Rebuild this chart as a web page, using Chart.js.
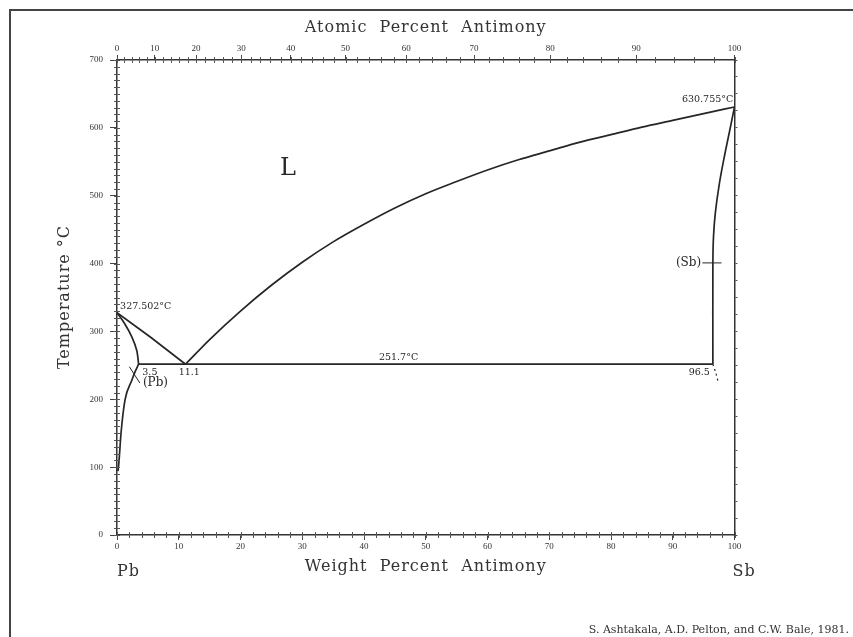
<!DOCTYPE html>
<html>
<head>
<meta charset="utf-8">
<script src="https://cdn.jsdelivr.net/npm/chart.js@4.4.0/dist/chart.umd.min.js"></script>
<style>
  html, body { margin: 0; padding: 0; background: #fff; }
  canvas { display: block; }
</style>
</head>
<body>
<canvas id="pbsb" width="853" height="637"></canvas>
<script>
// Pb-Sb phase diagram: weight % Sb (x) against temperature in °C (y)
const PB_MASS = 207.2;
const SB_MASS = 121.76;

const atomicTicks = [0, 10, 20, 30, 40, 50, 60, 70, 80, 90, 100];

// liquidus, Pb side
const liqPbWt = [0, 5.5, 11.1];
const liqPbTemp = [327.502, 291, 251.7];

// liquidus, Sb side
const liqSbWt = [11.1, 15, 20, 25, 30, 35, 40, 45, 50, 55, 60, 65, 70, 75, 80, 85, 90, 95, 100];
const liqSbTemp = [251.7, 288, 330, 368, 402, 432, 458, 482, 503, 521, 538, 553, 566, 579, 590, 601, 611, 621, 630.755];

// (Pb) solidus and solvus
const solPbWt = [0, 1.2, 2.4, 3.2, 3.5];
const solPbTemp = [327.502, 312, 292, 272, 251.7];
const solvPbWt = [3.5, 2.9, 2.4, 1.3, 0.65, 0.3, 0.15];
const solvPbTemp = [251.7, 240, 228, 199, 150, 106, 94];

// eutectic line
const eutWt = [3.5, 96.5];
const eutTemp = [251.7, 251.7];

// (Sb) solidus and solvus
const solSbWt = [100, 99.2, 98.3, 97.5, 96.9, 96.6, 96.5, 96.5];
const solSbTemp = [630.755, 595, 555, 515, 475, 440, 400, 251.7];
const solvSbWt = [96.5, 97.0, 97.4];
const solvSbTemp = [251.7, 238, 224];

// label leaders
const leadPbWt = [2.0, 3.7];
const leadPbTemp = [248, 224];
const leadSbWt = [94.8, 97.9];
const leadSbTemp = [401, 401];

const INK = '#262626';
const TICK_FONT = { family: "'Liberation Serif', serif", size: 9 };

function atToWt(a) {
    return a * SB_MASS / (a * SB_MASS + (100 - a) * PB_MASS) * 100;
}

function curve(wt, temp, extra) {
    return Object.assign({
        data: wt.map((w, i) => ({ x: w, y: temp[i] })),
        borderColor: INK,
        borderWidth: 1.7,
        pointRadius: 0,
        tension: 0.3,
        fill: false
    }, extra || {});
}

const notes = [
    { t: 'L', x: 27.7, y: 539, size: 24, align: 'center' },
    { t: '327.502°C', x: 0.5, y: 336, size: 9.5, align: 'left' },
    { t: '3.5', x: 4.1, y: 240, size: 9.5, align: 'left' },
    { t: '11.1', x: 10.0, y: 240, size: 9.5, align: 'left' },
    { t: '251.7°C', x: 45.6, y: 261, size: 9.5, align: 'center' },
    { t: '96.5', x: 96.0, y: 240, size: 9.5, align: 'right' },
    { t: '630.755°C', x: 99.8, y: 642, size: 9.5, align: 'right' },
    { t: '(Sb)', x: 94.6, y: 401, size: 12, align: 'right' },
    { t: '(Pb)', x: 4.2, y: 224, size: 12, align: 'left' }
];

const diagramText = {
    id: 'diagramText',
    beforeDraw(chart) {
        const ctx = chart.ctx;
        ctx.save();
        ctx.fillStyle = '#fff';
        ctx.fillRect(0, 0, chart.width, chart.height);
        ctx.strokeStyle = '#444';
        ctx.lineWidth = 2;
        ctx.beginPath();
        ctx.moveTo(10, chart.height);
        ctx.lineTo(10, 10);
        ctx.lineTo(chart.width, 10);
        ctx.stroke();
        ctx.restore();
    },
    afterDraw(chart) {
        const { ctx, chartArea: area, scales: { x, y } } = chart;
        ctx.save();

        // minor ticks
        ctx.strokeStyle = '#555';
        ctx.lineWidth = 1;
        ctx.beginPath();
        for (let t = 0; t <= 700; t += 10) {
            const py = Math.round(y.getPixelForValue(t)) + 0.5;
            ctx.moveTo(area.left - 3, py);
            ctx.lineTo(area.left + 3, py);
        }
        for (let w = 0; w <= 100; w += 2) {
            const px = Math.round(x.getPixelForValue(w)) + 0.5;
            ctx.moveTo(px, area.bottom - 3);
            ctx.lineTo(px, area.bottom + 3);
        }
        for (let a = 0; a <= 100; a += 2) {
            const px = Math.round(x.getPixelForValue(atToWt(a))) + 0.5;
            ctx.moveTo(px, area.top - 3);
            ctx.lineTo(px, area.top + 3);
        }
        ctx.stroke();

        // labels inside the diagram
        ctx.fillStyle = INK;
        ctx.textBaseline = 'middle';
        notes.forEach(n => {
            ctx.font = n.size + "px 'DejaVu Serif', serif";
            ctx.textAlign = n.align;
            ctx.fillText(n.t, x.getPixelForValue(n.x), y.getPixelForValue(n.y));
        });

        // axis titles
        const cx = (area.left + area.right) / 2;
        ctx.fillStyle = '#333';
        ctx.font = "16px 'DejaVu Serif', serif";
        ctx.letterSpacing = '1px';
        ctx.textAlign = 'center';
        ctx.fillText('Atomic  Percent  Antimony', cx, 28);
        ctx.fillText('Weight  Percent  Antimony', cx, 567);
        ctx.textAlign = 'left';
        ctx.fillText('Pb', area.left, 572);
        ctx.fillText('Sb', area.right - 2, 572);

        ctx.save();
        ctx.translate(65, 297);
        ctx.rotate(-Math.PI / 2);
        ctx.textAlign = 'center';
        ctx.fillText('Temperature °C', 0, 0);
        ctx.restore();

        ctx.letterSpacing = '0px';
        ctx.font = "11px 'DejaVu Serif', serif";
        ctx.textAlign = 'right';
        ctx.fillText('S. Ashtakala, A.D. Pelton, and C.W. Bale, 1981.', 849, 630);
        ctx.restore();
    }
};

new Chart(document.getElementById('pbsb'), {
    type: 'line',
    data: {
        datasets: [
            curve(liqPbWt, liqPbTemp, { tension: 0 }),
            curve(liqSbWt, liqSbTemp, { cubicInterpolationMode: 'monotone' }),
            curve(solPbWt, solPbTemp),
            curve(solvPbWt, solvPbTemp, { cubicInterpolationMode: 'monotone' }),
            curve(eutWt, eutTemp, { tension: 0 }),
            curve(solSbWt, solSbTemp, { tension: 0.4 }),
            curve(solvSbWt, solvSbTemp, { borderDash: [2, 3], borderWidth: 1.2 }),
            curve(leadPbWt, leadPbTemp, { tension: 0, borderWidth: 1 }),
            curve(leadSbWt, leadSbTemp, { tension: 0, borderWidth: 1 })
        ]
    },
    options: {
        responsive: false,
        animation: false,
        layout: { padding: 0 },
        plugins: {
            legend: { display: false },
            tooltip: { enabled: false }
        },
        scales: {
            x: {
                type: 'linear',
                position: 'bottom',
                min: 0,
                max: 100,
                ticks: { stepSize: 10, color: '#333', font: TICK_FONT, padding: 1, maxRotation: 0, autoSkip: false },
                grid: { drawOnChartArea: false, tickLength: 5, color: '#444' },
                border: { color: '#333', width: 1.5 },
                afterFit: s => { s.height = 102; }
            },
            xTop: {
                type: 'linear',
                position: 'top',
                min: 0,
                max: 100,
                afterBuildTicks: s => { s.ticks = atomicTicks.map(a => ({ value: atToWt(a) })); },
                ticks: { callback: (v, i) => atomicTicks[i], color: '#333', font: TICK_FONT, padding: 1, maxRotation: 0, autoSkip: false },
                grid: { drawOnChartArea: false, tickLength: 5, color: '#444' },
                border: { color: '#333', width: 1.5 },
                afterFit: s => { s.height = 60; }
            },
            y: {
                type: 'linear',
                position: 'left',
                min: 0,
                max: 700,
                ticks: { stepSize: 100, color: '#333', font: TICK_FONT, padding: 7 },
                grid: { drawOnChartArea: false, tickLength: 7, color: '#444' },
                border: { color: '#333', width: 1.5 },
                afterFit: s => { s.width = 117; }
            },
            yR: {
                type: 'linear',
                position: 'right',
                min: 0,
                max: 700,
                ticks: { display: false, stepSize: 25 },
                grid: { drawOnChartArea: false, tickLength: 3, color: '#555' },
                border: { color: '#333', width: 1.5 },
                afterFit: s => { s.width = 118.5; }
            }
        }
    },
    plugins: [diagramText]
});
</script>
</body>
</html>
